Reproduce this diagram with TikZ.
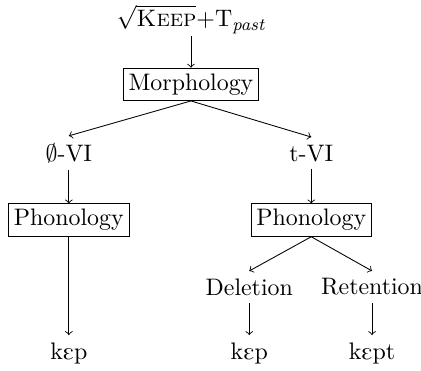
\documentclass[tikz,border=0pt]{standalone}
\usepackage{amsmath}
\usepackage{tipa}
\usepackage{tikz}
\usetikzlibrary{positioning}

\begin{document}
\begin{tikzpicture}[
    >=to,
    level/.style={rectangle, draw, inner sep=2.5pt, font=\fontsize{10.95}{13}\selectfont},
    label/.style={font=\fontsize{10.95}{13}\selectfont},
    form/.style={font=\fontsize{10.95}{13}\selectfont}
]

% frame of the picture
\useasboundingbox (0,0) rectangle (6.79,5.97);

% Root and morphology
\node[label, inner sep=1pt] (root) at (3.08,5.66) {$\sqrt{\text{\textsc{Keep}}}$+T$_{\textit{past}}$};
\node[level] (morph) at (3.08,4.61) {Morphology};

% Vocabulary items
\node[label] (nullvi) at (1.11,3.50) {$\emptyset$-VI};
\node[label] (tvi) at (5.02,3.50) {t-VI};

% Phonology
\node[level] (phonl) at (1.11,2.42) {Phonology};
\node[level] (phonr) at (5.02,2.42) {Phonology};

% Rules
\node[label] (del) at (4.02,1.34) {Deletion};
\node[label] (ret) at (6.00,1.34) {Retention};

% Surface forms
\node[form] (kepl) at (1.11,0.27) {\textipa{kEp}};
\node[form] (kepr) at (4.02,0.27) {\textipa{kEp}};
\node[form] (kept) at (6.00,0.27) {\textipa{kEpt}};

% Connections
\draw[->] (root) -- (morph);
\draw[->] (morph.south) -- (nullvi.north);
\draw[->] (morph.south) -- (tvi.north);
\draw[->] (nullvi) -- (phonl);
\draw[->] (tvi) -- (phonr);
\draw[->] (phonl) -- (kepl);
\draw[->] (phonr.south) -- (del.north);
\draw[->] (phonr.south) -- (ret.north);
\draw[->] (del) -- (kepr);
\draw[->] (ret) -- (kept);

\end{tikzpicture}
\end{document}
